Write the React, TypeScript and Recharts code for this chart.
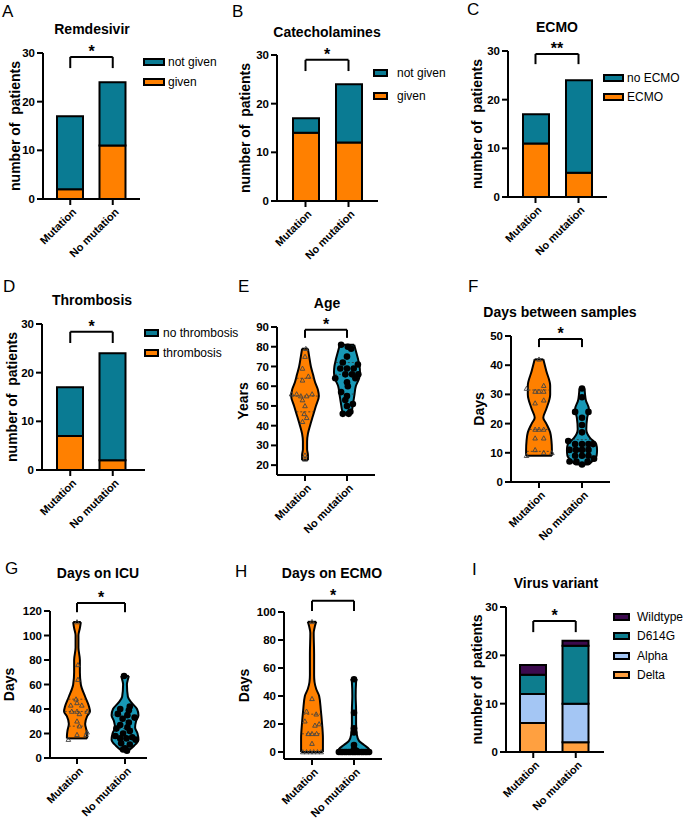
import React from 'react';
import { BarChart, Bar, XAxis, YAxis, ReferenceLine, Legend, ComposedChart, Area, Scatter } from 'recharts';

const FONT = '"Liberation Sans", Arial, Helvetica, sans-serif';
const groups = ['Mutation', 'No mutation'];

const ORANGE = '#ff8000';
const TEAL = '#0a7b93';
const CYAN = '#1898b6';
const WILD = '#3c0a4e';
const D614 = '#0d7d8e';
const ALPHA = '#a4c6f4';
const DELTA = '#ffa040';

// ---- Bar panel data ----
const remdesivirGiven = [2, 11];
const remdesivirNotGiven = [15, 13];
const catecholGiven = [14, 12];
const catecholNotGiven = [3, 12];
const ecmoYes = [11, 5];
const ecmoNo = [6, 19];
const thrombosisYes = [7, 2];
const thrombosisNo = [10, 22];
const variantDelta = [6, 2];
const variantAlpha = [6, 8];
const variantD614G = [4, 12];
const variantWildtype = [2, 1];

const countTicks = [0, 10, 20, 30];

// ---- Violin data: profiles are [value, half-width in category units] ----
const ageMutProfile: [number, number][] = [[22.5, 0.07], [25, 0.07], [28, 0.05], [32, 0.05], [36, 0.07], [40, 0.12], [45, 0.19], [50, 0.26], [55, 0.33], [58, 0.31], [62, 0.24], [66, 0.19], [70, 0.14], [75, 0.1], [79, 0.07]];
const ageNoMutProfile: [number, number][] = [[46, 0.1], [48, 0.12], [52, 0.15], [56, 0.18], [60, 0.21], [64, 0.29], [67, 0.31], [70, 0.3], [74, 0.26], [78, 0.21], [81, 0.17]];
const ageMutPoints: [number, number][] = [[79, 0.02], [75, 0], [69, -0.06], [65, 0.08], [63, -0.06], [56, -0.32], [56, -0.2], [55, -0.1], [55, 0.04], [56, 0.17], [53, -0.06], [50, 0], [46, -0.02], [44, 0.04], [42, -0.06], [25, 0], [23, 0]];
const ageNoMutPoints: [number, number][] = [[81, -0.14], [80, 0.02], [79, 0.1], [75, 0], [72, -0.1], [71, 0.26], [69, -0.16], [69, 0], [69, 0.16], [66, -0.04], [66, 0.12], [66, 0.27], [64, -0.28], [64, 0.2], [62, 0], [60, 0.02], [57, -0.14], [55, 0], [53, -0.04], [51, 0.14], [50, 0], [47, 0.08], [46, -0.1], [46, 0.04]];
const ageMutQuartiles = [47, 55, 64];
const ageNoMutQuartiles = [56, 66, 72];
const ageTicks = [20, 30, 40, 50, 60, 70, 80, 90];

const sampMutProfile: [number, number][] = [[9, 0.3], [11, 0.3], [14, 0.29], [17, 0.26], [20, 0.17], [22, 0.1], [25, 0.17], [30, 0.26], [33, 0.26], [38, 0.17], [42, 0.1]];
const sampNoMutProfile: [number, number][] = [[6, 0.16], [7, 0.23], [9, 0.34], [11, 0.35], [13, 0.33], [15, 0.19], [18, 0.1], [22, 0.12], [25, 0.16], [28, 0.09], [32, 0.06]];
const sampMutPoints: [number, number][] = [[42, 0], [33, 0.11], [32, -0.29], [31, -0.09], [31, 0.11], [31, 0], [28, 0.11], [27, -0.09], [18, -0.09], [18, 0], [18, 0.11], [15, -0.09], [15, 0.11], [11, -0.09], [10, 0.11], [10, 0.3], [9, -0.29]];
const sampNoMutPoints: [number, number][] = [[32, 0], [29, 0], [24, -0.16], [24, 0.15], [22, 0], [19.5, 0], [17, 0], [14, -0.32], [13, -0.16], [13, 0], [13, 0.15], [13, 0.26], [11, -0.29], [11, -0.14], [11, 0], [11, 0.15], [9, -0.16], [9, 0], [9, 0.15], [8, 0.28], [7, -0.29], [7, -0.13], [7, 0.13], [6, 0]];
const sampMutQuartiles = [10.5, 18, 31.5];
const sampNoMutQuartiles = [9, 12, 14.5];
const sampTicks = [0, 10, 20, 30, 40, 50];

const icuMutProfile: [number, number][] = [[16, 0.21], [18, 0.21], [22, 0.2], [28, 0.17], [34, 0.21], [38, 0.27], [42, 0.25], [50, 0.17], [60, 0.08], [70, 0.06], [80, 0.06], [90, 0.03], [100, 0.03], [106, 0.06], [111, 0.08]];
const icuNoMutProfile: [number, number][] = [[6, 0.07], [10, 0.19], [15, 0.28], [20, 0.26], [25, 0.21], [30, 0.23], [35, 0.28], [40, 0.25], [45, 0.14], [50, 0.06], [60, 0.04], [64, 0.06], [67, 0.08]];
const icuMutPoints: [number, number][] = [[111, 0], [76, 0.02], [64, 0.02], [48, -0.02], [45, 0], [43, -0.13], [43, 0.1], [38, -0.11], [38, 0], [38, 0.21], [36, 0.05], [30, 0], [26, 0.05], [21, 0.21], [19, 0], [19, 0.19], [15, -0.18]];
const icuNoMutPoints: [number, number][] = [[67, -0.02], [42, 0.1], [40, -0.1], [39, 0.08], [36, -0.15], [35, 0.05], [33, 0.2], [32, -0.05], [29, 0.08], [27, -0.1], [25, 0.05], [24, -0.18], [22, 0.1], [20, -0.04], [18, -0.2], [17, 0.15], [16, 0.03], [16, -0.1], [15, 0.22], [12, -0.08], [11, 0.1], [8, 0], [7, -0.04], [6, 0.04]];
const icuMutQuartiles = [26, 38, 48];
const icuNoMutQuartiles = [16, 24, 35];
const icuTicks = [0, 20, 40, 60, 80, 100, 120];

const ecmoMutProfile: [number, number][] = [[0, 0.26], [5, 0.26], [10, 0.26], [20, 0.24], [30, 0.21], [40, 0.17], [45, 0.1], [50, 0.06], [55, 0.05], [70, 0.05], [85, 0.04], [90, 0.07], [93, 0.1]];
const ecmoNoMutProfile: [number, number][] = [[0, 0.38], [2, 0.36], [5, 0.24], [8, 0.12], [12, 0.07], [20, 0.05], [30, 0.05], [40, 0.04], [50, 0.05], [52, 0.07]];
const ecmoMutPoints: [number, number][] = [[93, 0], [38, 0], [29, -0.13], [27, 0.1], [22, -0.17], [20, 0.17], [19, 0.07], [13, -0.09], [13, 0], [13, 0.11], [6, 0], [0, -0.22], [0, -0.13], [0, -0.04], [0, 0.04], [0, 0.13], [0, 0.22]];
const ecmoNoMutPoints: [number, number][] = [[52, 0], [28, 0], [17, 0], [14, 0], [5, 0], [2, 0], [1, 0.05], [0, -0.36], [0, -0.31], [0, -0.27], [0, -0.22], [0, -0.18], [0, -0.13], [0, -0.09], [0, -0.04], [0, 0], [0, 0.04], [0, 0.09], [0, 0.13], [0, 0.18], [0, 0.22], [0, 0.27], [0, 0.31], [0, 0.36]];
const ecmoMutQuartiles = [13, 27];
const ecmoNoMutQuartiles: number[] = [];
const ecmoTicks = [0, 20, 40, 60, 80, 100];

const axisStyle = { stroke: '#000', strokeWidth: 2 };
const tickStyle = { fill: '#000', fontSize: 11.5, fontWeight: 700, fontFamily: FONT };
const X_AXIS_H = 80;

const AngledTick = (props: any) => {
  const { x, y, payload } = props;
  const v = payload ? payload.value : '';
  const label = typeof v === 'number' ? groups[Math.round(v)] : v;
  return (
    <g transform={`translate(${x + 1},${y})`}>
      <text x={0} y={0} dy={8} textAnchor="end" transform="rotate(-45)" fontSize={11} fontWeight={700} fontFamily={FONT} fill="#000">
        {label}
      </text>
    </g>
  );
};

type Geo = { px: number; py: number; W: number; axisX: number; plotTop: number; plotBottom: number; xEnd: number };
type LegendCfg = { x: number; y: number; gap: number; sw: number; textOff: number };

function dims(g: Geo) {
  const yw = g.axisX - g.px;
  const mt = g.plotTop - g.py;
  const H = g.plotBottom - g.py + X_AXIS_H;
  const mr = g.W - (g.xEnd - g.px);
  return { yw, mt, H, mr };
}

function legendEl(items: { name: string; color: string }[], cfg: LegendCfg) {
  return (
    <Legend
      layout="horizontal"
      align="center"
      verticalAlign="middle"
      wrapperStyle={{ left: cfg.x, top: cfg.y, width: 'auto', height: 'auto', whiteSpace: 'nowrap' }}
      content={() => (
        <div style={{ fontFamily: FONT, fontSize: 12, color: '#000' }}>
          {items.map((it) => (
            <div key={it.name} style={{ height: cfg.gap, display: 'flex', alignItems: 'center' }}>
              <span style={{ display: 'inline-block', boxSizing: 'border-box', width: cfg.sw, height: 8, background: it.color, border: '2px solid #000' }} />
              <span style={{ marginLeft: cfg.textOff - cfg.sw }}>{it.name}</span>
            </div>
          ))}
        </div>
      )}
    />
  );
}

function bracketEls(x1: any, x2: any, top: number, drop: number, star: string, id: string) {
  const lbl = { value: star, position: 'top' as const, offset: 0, fill: '#000', fontSize: 16, fontWeight: 700, fontFamily: FONT };
  return [
    <ReferenceLine key={id + 'l'} segment={[{ x: x1, y: drop }, { x: x1, y: top }]} stroke="#000" strokeWidth={2} ifOverflow="visible" />,
    <ReferenceLine key={id + 'm'} segment={[{ x: x1, y: top }, { x: x2, y: top }]} stroke="#000" strokeWidth={2} ifOverflow="visible" label={lbl} />,
    <ReferenceLine key={id + 'r'} segment={[{ x: x2, y: top }, { x: x2, y: drop }]} stroke="#000" strokeWidth={2} ifOverflow="visible" />,
  ];
}

type Series = { key: string; name: string; color: string; values: number[] };

function BarPanel(p: { geo: Geo; pad: [number, number]; series: Series[]; legend: LegendCfg; bracket: [number, number]; star: string; yLabel: string; labelX: number }) {
  const { yw, mt, H, mr } = dims(p.geo);
  const data = groups.map((g, i) => {
    const row: any = { group: g };
    p.series.forEach((s) => (row[s.key] = s.values[i]));
    return row;
  });
  const legendItems = [...p.series].reverse().map((s) => ({ name: s.name, color: s.color }));
  return (
    <div style={{ position: 'absolute', left: p.geo.px, top: p.geo.py }}>
      <BarChart width={p.geo.W} height={H} data={data} margin={{ top: mt, right: mr, left: 0, bottom: 0 }}>
        <XAxis dataKey="group" type="category" height={X_AXIS_H} padding={{ left: p.pad[0], right: p.pad[1] }} axisLine={axisStyle} tickLine={axisStyle} tickSize={6} interval={0} tick={(tp: any) => <AngledTick {...tp} />} />
        <YAxis
          width={yw}
          domain={[0, 30]}
          ticks={countTicks}
          axisLine={axisStyle}
          tickLine={axisStyle}
          tickSize={6}
          tick={tickStyle}
          label={{ value: p.yLabel, angle: -90, position: 'center', dx: p.labelX - p.geo.px - yw / 2, fill: '#000', fontSize: 14, fontWeight: 700, fontFamily: FONT }}
        />
        {p.series.map((s) => (
          <Bar key={s.key} dataKey={s.key} name={s.name} stackId="a" fill={s.color} stroke="#000" strokeWidth={2} barSize={26} isAnimationActive={false} />
        ))}
        {bracketEls(groups[0], groups[1], p.bracket[0], p.bracket[1], p.star, 'b')}
        {legendEl(legendItems, p.legend)}
      </BarChart>
    </div>
  );
}

function widthAt(profile: [number, number][], y: number) {
  for (let i = 0; i < profile.length - 1; i++) {
    const [y0, w0] = profile[i];
    const [y1, w1] = profile[i + 1];
    if (y >= y0 && y <= y1) return w0 + ((w1 - w0) * (y - y0)) / (y1 - y0);
  }
  return profile[0][1];
}

function violinEls(profile: [number, number][], quartiles: number[], center: number, color: string, id: string) {
  const data = profile.map(([y, w]) => ({ y, r: [center - w, center + w] }));
  const first = profile[0];
  const last = profile[profile.length - 1];
  const els: any[] = [
    <Area key={id + 'a'} data={data} dataKey="r" type="monotone" fill={color} fillOpacity={1} stroke="#000" strokeWidth={2} isAnimationActive={false} />,
    <ReferenceLine key={id + 'c0'} segment={[{ x: center - first[1], y: first[0] }, { x: center + first[1], y: first[0] }]} stroke="#000" strokeWidth={2} ifOverflow="visible" />,
    <ReferenceLine key={id + 'c1'} segment={[{ x: center - last[1], y: last[0] }, { x: center + last[1], y: last[0] }]} stroke="#000" strokeWidth={2} ifOverflow="visible" />,
  ];
  quartiles.forEach((q, i) => {
    const w = widthAt(profile, q) * 0.95;
    els.push(<ReferenceLine key={id + 'q' + i} segment={[{ x: center - w, y: q }, { x: center + w, y: q }]} stroke="#333" strokeWidth={0.8} strokeDasharray="2 2" ifOverflow="visible" />);
  });
  return els;
}

const Triangle = (props: any) => {
  const { cx, cy } = props;
  if (cx == null || cy == null) return null;
  return <path d={`M${cx},${cy - 2.4} L${cx + 2.3},${cy + 1.8} L${cx - 2.3},${cy + 1.8} Z`} fill="none" stroke="#444" strokeWidth={0.9} />;
};
const Dot = (props: any) => {
  const { cx, cy } = props;
  if (cx == null || cy == null) return null;
  return <circle cx={cx} cy={cy} r={3.3} fill="#000" />;
};

function ViolinPanel(p: {
  geo: Geo; xDomain: [number, number]; yDomain: [number, number]; ticks: number[];
  mutProfile: [number, number][]; noMutProfile: [number, number][];
  mutPoints: [number, number][]; noMutPoints: [number, number][];
  mutQ: number[]; noMutQ: number[];
  bracket: [number, number]; star: string; yLabel: string; labelX: number;
}) {
  const { yw, mt, H, mr } = dims(p.geo);
  const mutPts = p.mutPoints.map(([v, o]) => ({ x: 0 + o, y: v }));
  const noMutPts = p.noMutPoints.map(([v, o]) => ({ x: 1 + o, y: v }));
  return (
    <div style={{ position: 'absolute', left: p.geo.px, top: p.geo.py }}>
      <ComposedChart layout="vertical" width={p.geo.W} height={H} margin={{ top: mt, right: mr, left: 0, bottom: 0 }}>
        <XAxis type="number" domain={p.xDomain} allowDataOverflow ticks={[0, 1]} height={X_AXIS_H} axisLine={axisStyle} tickLine={axisStyle} tickSize={6} interval={0} tick={(tp: any) => <AngledTick {...tp} />} />
        <YAxis
          type="number"
          dataKey="y"
          reversed
          width={yw}
          domain={p.yDomain}
          allowDataOverflow
          ticks={p.ticks}
          interval={0}
          axisLine={axisStyle}
          tickLine={axisStyle}
          tickSize={6}
          tick={tickStyle}
          label={{ value: p.yLabel, angle: -90, position: 'center', dx: p.labelX - p.geo.px - yw / 2, fill: '#000', fontSize: 14, fontWeight: 700, fontFamily: FONT }}
        />
        {violinEls(p.mutProfile, p.mutQ, 0, ORANGE, 'm')}
        {violinEls(p.noMutProfile, p.noMutQ, 1, CYAN, 'n')}
        <Scatter data={mutPts} dataKey="x" shape={(sp: any) => <Triangle {...sp} />} isAnimationActive={false} />
        <Scatter data={noMutPts} dataKey="x" shape={(sp: any) => <Dot {...sp} />} isAnimationActive={false} />
        {bracketEls(0, 1, p.bracket[0], p.bracket[1], p.star, 'v')}
      </ComposedChart>
    </div>
  );
}

const Title = ({ text, cx, cy }: { text: string; cx: number; cy: number }) => (
  <div style={{ position: 'absolute', left: cx - 100, top: cy - 8, width: 200, textAlign: 'center', fontFamily: FONT, fontWeight: 700, fontSize: 14, lineHeight: '16px', color: '#000' }}>{text}</div>
);
const Letter = ({ text, x, y }: { text: string; x: number; y: number }) => (
  <div style={{ position: 'absolute', left: x, top: y, fontFamily: FONT, fontSize: 17, lineHeight: '17px', color: '#000' }}>{text}</div>
);

export default function App() {
  return (
    <div style={{ position: 'absolute', left: 0, top: 0, width: 685, height: 822, background: '#fff', overflow: 'hidden' }}>
      <BarPanel
        geo={{ px: 0, py: 0, W: 225, axisX: 43, plotTop: 53, plotBottom: 199, xEnd: 140 }}
        pad={[6, 6]}
        series={[{ key: 'g', name: 'given', color: ORANGE, values: remdesivirGiven }, { key: 'n', name: 'not given', color: TEAL, values: remdesivirNotGiven }]}
        legend={{ x: 143, y: 52.7, gap: 19.5, sw: 22, textOff: 25 }}
        bracket={[29.2, 26.9]}
        star="*"
        yLabel={'number of\u00A0 patients'}
        labelX={15}
      />
      <BarPanel
        geo={{ px: 225, py: 0, W: 225, axisX: 277, plotTop: 55, plotBottom: 201, xEnd: 378 }}
        pad={[7, 8]}
        series={[{ key: 'g', name: 'given', color: ORANGE, values: catecholGiven }, { key: 'n', name: 'not given', color: TEAL, values: catecholNotGiven }]}
        legend={{ x: 148, y: 62, gap: 22.7, sw: 15, textOff: 24 }}
        bracket={[29, 26.7]}
        star="*"
        yLabel={'number of\u00A0 patients'}
        labelX={245}
      />
      <BarPanel
        geo={{ px: 450, py: 0, W: 235, axisX: 508, plotTop: 51, plotBottom: 197, xEnd: 607 }}
        pad={[6, 7]}
        series={[{ key: 'g', name: 'ECMO', color: ORANGE, values: ecmoYes }, { key: 'n', name: 'no ECMO', color: TEAL, values: ecmoNo }]}
        legend={{ x: 153, y: 68.8, gap: 19, sw: 21, textOff: 24 }}
        bracket={[29.4, 27.3]}
        star="**"
        yLabel={'number of\u00A0 patients'}
        labelX={477}
      />
      <BarPanel
        geo={{ px: 0, py: 270, W: 225, axisX: 42, plotTop: 324, plotBottom: 470, xEnd: 145 }}
        pad={[7, 11]}
        series={[{ key: 'g', name: 'thrombosis', color: ORANGE, values: thrombosisYes }, { key: 'n', name: 'no thrombosis', color: TEAL, values: thrombosisNo }]}
        legend={{ x: 144, y: 53.3, gap: 20, sw: 15, textOff: 19 }}
        bracket={[28.4, 26.1]}
        star="*"
        yLabel={'number of\u00A0 patients'}
        labelX={12.5}
      />
      <ViolinPanel
        geo={{ px: 225, py: 270, W: 230, axisX: 277, plotTop: 327, plotBottom: 475, xEnd: 375 }}
        xDomain={[-0.667, 1.667]}
        yDomain={[15, 90]}
        ticks={ageTicks}
        mutProfile={ageMutProfile}
        noMutProfile={ageNoMutProfile}
        mutPoints={ageMutPoints}
        noMutPoints={ageNoMutPoints}
        mutQ={ageMutQuartiles}
        noMutQ={ageNoMutQuartiles}
        bracket={[88.6, 84.5]}
        star="*"
        yLabel="Years"
        labelX={243}
      />
      <ViolinPanel
        geo={{ px: 450, py: 270, W: 235, axisX: 511, plotTop: 336, plotBottom: 482, xEnd: 610 }}
        xDomain={[-0.651, 1.651]}
        yDomain={[0, 50]}
        ticks={sampTicks}
        mutProfile={sampMutProfile}
        noMutProfile={sampNoMutProfile}
        mutPoints={sampMutPoints}
        noMutPoints={sampNoMutPoints}
        mutQ={sampMutQuartiles}
        noMutQ={sampNoMutQuartiles}
        bracket={[49, 46.2]}
        star="*"
        yLabel="Days"
        labelX={479}
      />
      <ViolinPanel
        geo={{ px: 0, py: 540, W: 225, axisX: 50, plotTop: 611, plotBottom: 758, xEnd: 147 }}
        xDomain={[-0.5625, 1.458]}
        yDomain={[0, 120]}
        ticks={icuTicks}
        mutProfile={icuMutProfile}
        noMutProfile={icuNoMutProfile}
        mutPoints={icuMutPoints}
        noMutPoints={icuNoMutPoints}
        mutQ={icuMutQuartiles}
        noMutQ={icuNoMutQuartiles}
        bracket={[126.5, 119]}
        star="*"
        yLabel="Days"
        labelX={9}
      />
      <ViolinPanel
        geo={{ px: 225, py: 540, W: 225, axisX: 284, plotTop: 612, plotBottom: 759, xEnd: 382 }}
        xDomain={[-0.667, 1.667]}
        yDomain={[-5, 100]}
        ticks={ecmoTicks}
        mutProfile={ecmoMutProfile}
        noMutProfile={ecmoNoMutProfile}
        mutPoints={ecmoMutPoints}
        noMutPoints={ecmoNoMutPoints}
        mutQ={ecmoMutQuartiles}
        noMutQ={ecmoNoMutQuartiles}
        bracket={[108, 100.7]}
        star="*"
        yLabel="Days"
        labelX={244}
      />
      <BarPanel
        geo={{ px: 450, py: 540, W: 235, axisX: 506, plotTop: 607, plotBottom: 752, xEnd: 604 }}
        pad={[6, 7]}
        series={[
          { key: 'd', name: 'Delta', color: DELTA, values: variantDelta },
          { key: 'a', name: 'Alpha', color: ALPHA, values: variantAlpha },
          { key: 'g', name: 'D614G', color: D614, values: variantD614G },
          { key: 'w', name: 'Wildtype', color: WILD, values: variantWildtype },
        ]}
        legend={{ x: 163, y: 67, gap: 19.5, sw: 17, textOff: 24 }}
        bracket={[27.1, 24.8]}
        star="*"
        yLabel={'number of\u00A0 patients'}
        labelX={477.5}
      />
      <Title text="Remdesivir" cx={92} cy={29} />
      <Title text="Catecholamines" cx={327} cy={32} />
      <Title text="ECMO" cx={557} cy={27} />
      <Title text="Thrombosis" cx={92} cy={300} />
      <Title text="Age" cx={327} cy={303} />
      <Title text="Days between samples" cx={560} cy={312} />
      <Title text="Days on ICU" cx={98} cy={573} />
      <Title text="Days on ECMO" cx={332} cy={573} />
      <Title text="Virus variant" cx={556} cy={583} />
      <Letter text="A" x={2} y={3} />
      <Letter text="B" x={232} y={3} />
      <Letter text="C" x={467} y={1} />
      <Letter text="D" x={3} y={278} />
      <Letter text="E" x={238} y={278} />
      <Letter text="F" x={468} y={278} />
      <Letter text="G" x={5} y={560} />
      <Letter text="H" x={235} y={563} />
      <Letter text="I" x={472} y={561} />
    </div>
  );
}
